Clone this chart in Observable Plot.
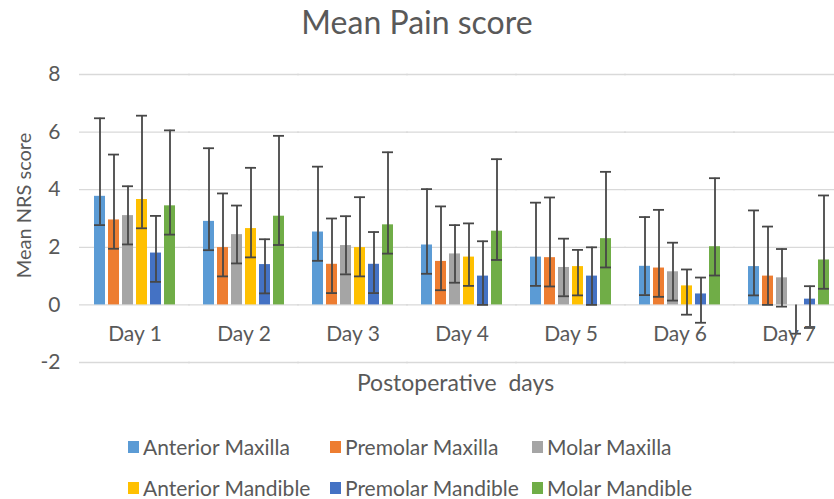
<!DOCTYPE html>
<html>
<head>
<meta charset="utf-8">
<script src="https://cdn.jsdelivr.net/npm/d3@7"></script>
<script src="https://cdn.jsdelivr.net/npm/@observablehq/plot@0.6"></script>
<style>
  html, body { margin: 0; padding: 0; background: #fff; }
  body { width: 834px; height: 499px; overflow: hidden; font-family: Lato, "Open Sans", sans-serif; color: #595959; }
  #title { height: 44px; line-height: 44px; text-align: center; font-size: 32px; }
  #chart { width: 834px; height: 332px; overflow: hidden; }
  #chart svg { max-width: none !important; width: 846px !important; height: 332px !important; }
  #xlabel { height: 28px; line-height: 28px; margin-top: -8px; text-align: center; font-size: 23px; padding-left: 77px; box-sizing: border-box; }
  #legend { padding-top: 30px; padding-left: 128px; }
  .row { display: flex; height: 41px; align-items: center; }
  .item { width: 202px; display: flex; align-items: center; font-size: 21px; white-space: nowrap; }
  .sw { width: 11px; height: 12px; margin-right: 4px; flex: none; }
</style>
</head>
<body>
<div id="title">Mean Pain score</div>
<div id="chart"></div>
<div id="xlabel">Postoperative&nbsp; days</div>
<div id="legend"></div>
<script>
const days = ["Day 1", "Day 2", "Day 3", "Day 4", "Day 5", "Day 6", "Day 7"];
const series = ["Anterior Maxilla", "Premolar Maxilla", "Molar Maxilla", "Anterior Mandible", "Premolar Mandible", "Molar Mandible"];
const colors = ["#5B9BD5", "#ED7D31", "#A5A5A5", "#FFC000", "#4472C4", "#70AD47"];
const yTicks = [-2, 0, 2, 4, 6, 8];
const yLabel = "Mean NRS score";

// mean NRS score per series, Day 1..7
const anteriorMaxilla  = [3.77, 2.90, 2.53, 2.08, 1.66, 1.34, 1.33];
const premolarMaxilla  = [2.95, 1.99, 1.41, 1.51, 1.64, 1.28, 1.00];
const molarMaxilla     = [3.10, 2.44, 2.06, 1.77, 1.30, 1.15, 0.94];
const anteriorMandible = [3.66, 2.65, 1.99, 1.66, 1.33, 0.66, 0.00];
const premolarMandible = [1.80, 1.40, 1.41, 1.00, 1.00, 0.38, 0.20];
const molarMandible    = [3.44, 3.08, 2.78, 2.56, 2.30, 2.02, 1.56];

// plus error per series
const errUpAntMax  = [2.71, 2.54, 2.27, 1.94, 1.89, 1.71, 1.95];
const errUpPreMax  = [2.27, 1.88, 1.59, 1.91, 2.09, 2.02, 1.72];
const errUpMolMax  = [1.02, 1.01, 1.02, 1.00, 1.00, 1.01, 1.00];
const errUpAntMand = [2.91, 2.11, 1.75, 1.17, 0.58, 0.57, null];
const errUpPreMand = [1.29, 0.88, 1.12, 1.21, 1.00, 0.57, 0.45];
const errUpMolMand = [2.62, 2.79, 2.52, 2.50, 2.32, 2.38, 2.24];

// minus error per series
const errDnAntMax  = [1, 1, 1, 1, 1, 1, 1];
const errDnPreMax  = [1, 1, 1, 1, 1, 1, 1];
const errDnMolMax  = [1, 1, 1, 1, 1, 1, 1];
const errDnAntMand = [1, 1, 1, 1, 1, 1, 1];
const errDnPreMand = [1, 1, 1, 1, 1, 1, 1];
const errDnMolMand = [1, 1, 1, 1, 1, 1, 1];

const means = [anteriorMaxilla, premolarMaxilla, molarMaxilla, anteriorMandible, premolarMandible, molarMandible];
const ups = [errUpAntMax, errUpPreMax, errUpMolMax, errUpAntMand, errUpPreMand, errUpMolMand];
const dns = [errDnAntMax, errDnPreMax, errDnMolMax, errDnAntMand, errDnPreMand, errDnMolMand];

const rows = [];
series.forEach((s, si) => {
  days.forEach((d, di) => {
    const m = means[si][di];
    const u = ups[si][di];
    rows.push({
      day: d, series: s, mean: m,
      lo: m - dns[si][di],
      hi: u == null ? null : m + u,
      top: u == null ? m : m + u
    });
  });
});

const errColor = "#474747";

const chart = Plot.plot({
  width: 846,
  height: 332,
  marginLeft: 77,
  marginRight: 0,
  marginTop: 30,
  marginBottom: 14,
  style: { fontFamily: "Lato, 'Open Sans', sans-serif", fontSize: "21px", color: "#595959", background: "transparent" },
  fx: { domain: days, paddingInner: 0.167, paddingOuter: 0.092, axis: null, label: null },
  x: { domain: series, padding: 0.25, axis: null },
  y: {
    domain: [-2, 8], ticks: yTicks, tickSize: 0, tickPadding: 29,
    tickFormat: d => d.toString(), label: null
  },
  color: { domain: series, range: colors },
  marks: [
    Plot.ruleY(yTicks, { stroke: "#d9d9d9", strokeWidth: 1.3, insetLeft: -10, insetRight: -10 }),
    Plot.barY(rows, { fx: "day", x: "series", y: "mean", fill: "series" }),
    Plot.ruleX(rows, { fx: "day", x: "series", y1: "lo", y2: "top", stroke: errColor, strokeWidth: 1.8 }),
    Plot.tickY(rows, { fx: "day", x: "series", y: "hi", stroke: errColor, strokeWidth: 1.8 }),
    Plot.tickY(rows, { fx: "day", x: "series", y: "lo", stroke: errColor, strokeWidth: 1.8 }),
    Plot.text(days, { fx: d => d, y: () => 0, text: d => d, dy: 29, fontSize: 21, fill: "#595959" }),
    Plot.text([yLabel], { fx: () => days[0], frameAnchor: "left", textAnchor: "middle", rotate: -90, dx: -65, dy: -13, fontSize: 20, fill: "#595959" })
  ]
});
document.getElementById("chart").appendChild(chart);

// legend
const legend = document.getElementById("legend");
for (let r = 0; r < 2; r++) {
  const row = document.createElement("div");
  row.className = "row";
  for (let c = 0; c < 3; c++) {
    const i = r * 3 + c;
    const item = document.createElement("div");
    item.className = "item";
    const sw = document.createElement("span");
    sw.className = "sw";
    sw.style.background = colors[i];
    const t = document.createElement("span");
    t.textContent = series[i];
    item.appendChild(sw);
    item.appendChild(t);
    row.appendChild(item);
  }
  legend.appendChild(row);
}
</script>
</body>
</html>
